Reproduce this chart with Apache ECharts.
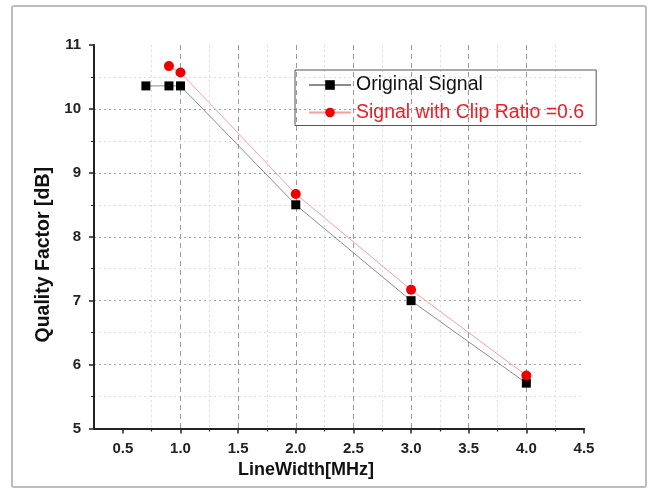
<!DOCTYPE html>
<html>
<head>
<meta charset="utf-8">
<script src="https://cdn.jsdelivr.net/npm/echarts@6/dist/echarts.min.js"></script>
<style>
  html, body { margin: 0; padding: 0; background: #fff; }
  #main { width: 648px; height: 489px; }
</style>
</head>
<body>
<div id="main"></div>
<script>
const chartElement = document.getElementById("main");

// data
const seriesNames = ["Original Signal", "Signal with Clip Ratio =0.6"];
const originalX = [0.7, 0.9, 1.0, 2.0, 3.0, 4.0];
const originalY = [10.36, 10.36, 10.36, 8.5, 7.0, 5.71];
const clipX = [0.9, 1.0, 2.0, 3.0, 4.0];
const clipY = [10.67, 10.57, 8.67, 7.17, 5.83];
const xMajorTicks = [0.5, 1.0, 1.5, 2.0, 2.5, 3.0, 3.5, 4.0, 4.5];
const xMinorTicks = [0.75, 1.25, 1.75, 2.25, 2.75, 3.25, 3.75, 4.25];

const font = "'Liberation Sans', Arial, sans-serif";

function pairs(xs, ys) {
  return xs.map((x, i) => [x, ys[i]]);
}

function chartOption() {
  return {
    animation: false,
    textStyle: { fontFamily: font },
    graphic: [
      {
        type: "rect",
        shape: { x: 12, y: 6, width: 634, height: 481, r: 2 },
        style: { fill: "none", stroke: "#bdbdbd", lineWidth: 2 },
        z: -1,
      },
    ],
    grid: { left: 94, right: 64, top: 45, bottom: 60.5 },
    legend: {
      orient: "vertical",
      left: 295,
      top: 70,
      padding: [5, 12, 3, 13],
      itemWidth: 42,
      itemHeight: 12,
      itemGap: 7.5,
      borderColor: "#555",
      borderWidth: 1,
      textStyle: { fontSize: 19.5, fontFamily: font },
      data: [
        { name: seriesNames[0], textStyle: { color: "#111" } },
        { name: seriesNames[1], textStyle: { color: "#e8202a" } },
      ],
    },
    xAxis: [
      {
        type: "value",
        min: 0.25,
        max: 4.5,
        interval: 0.25,
        name: "LineWidth[MHz]",
        nameLocation: "middle",
        nameGap: 28,
        nameTextStyle: {
          fontSize: 18,
          fontWeight: "bold",
          color: "#111",
          padding: [0, 66, 0, 0],
        },
        axisLine: { show: true, lineStyle: { color: "#222", width: 2 } },
        axisTick: {
          show: true,
          length: 5,
          customValues: xMajorTicks,
          lineStyle: { color: "#222", width: 1.5 },
        },
        axisLabel: {
          customValues: xMajorTicks,
          formatter: (v) => v.toFixed(1),
          fontSize: 15,
          fontWeight: "bold",
          color: "#222",
          margin: 13,
        },
        splitLine: {
          show: true,
          showMinLine: false,
          showMaxLine: false,
          lineStyle: { color: "#9a9a9a", type: [5, 4], width: 1 },
        },
      },
      {
        type: "value",
        position: "bottom",
        min: 0.25,
        max: 4.5,
        interval: 0.25,
        axisLine: { show: false },
        axisTick: {
          show: true,
          length: 3,
          customValues: xMinorTicks,
          lineStyle: { color: "#222", width: 1.2 },
        },
        axisLabel: { show: false },
        splitLine: {
          show: true,
          lineStyle: { color: "#dcdcdc", type: [2, 3], width: 1 },
        },
      },
    ],
    yAxis: {
      type: "value",
      min: 5,
      max: 11,
      interval: 1,
      name: "Quality Factor [dB]",
      nameLocation: "middle",
      nameGap: 40,
      nameTextStyle: {
        fontSize: 19.5,
        fontWeight: "bold",
        color: "#111",
        padding: [0, 36, 0, 0],
      },
      axisLine: { show: true, lineStyle: { color: "#222", width: 2 } },
      axisTick: { show: true, length: 5, lineStyle: { color: "#222", width: 1.5 } },
      minorTick: { show: true, splitNumber: 2, length: 3, lineStyle: { color: "#222" } },
      axisLabel: { fontSize: 15, fontWeight: "bold", color: "#222", margin: 13 },
      splitLine: {
        show: true,
        showMinLine: false,
        showMaxLine: false,
        lineStyle: { color: "#a0a0a0", type: [2, 3], width: 1 },
      },
      minorSplitLine: {
        show: true,
        lineStyle: { color: "#dcdcdc", type: [2, 3], width: 1 },
      },
    },
    series: [
      {
        name: seriesNames[0],
        type: "line",
        data: pairs(originalX, originalY),
        symbol: "rect",
        symbolSize: 9,
        itemStyle: { color: "#000" },
        lineStyle: { color: "#8c8c8c", width: 1 },
        z: 3,
      },
      {
        name: seriesNames[1],
        type: "line",
        data: pairs(clipX, clipY),
        symbol: "circle",
        symbolSize: 10,
        itemStyle: { color: "#ee0000" },
        lineStyle: { color: "#f2a0a0", width: 1 },
        z: 4,
      },
    ],
  };
}

const myChart = echarts.init(chartElement);
myChart.setOption(chartOption());
</script>
</body>
</html>
